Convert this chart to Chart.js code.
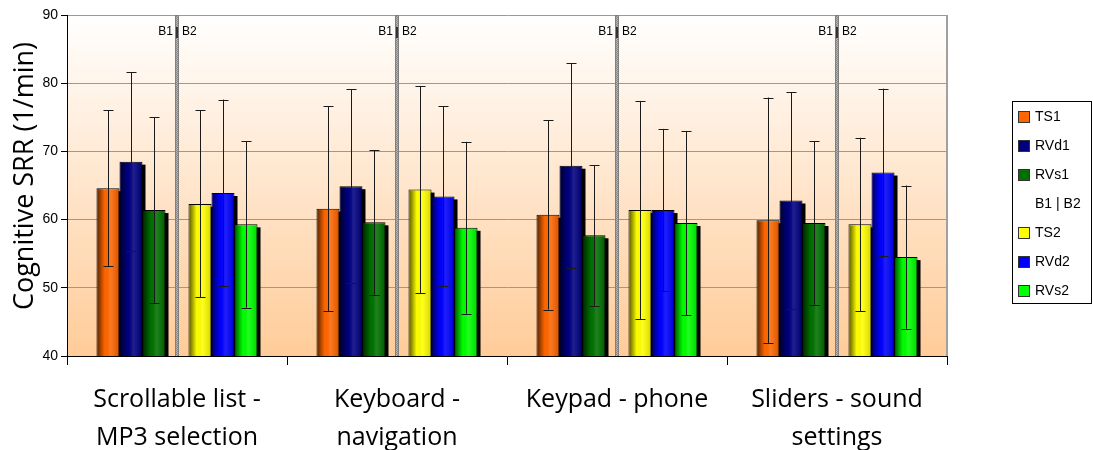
<!DOCTYPE html>
<html>
<head>
<meta charset="utf-8">
<script src="https://cdn.jsdelivr.net/npm/chart.js@4.4.1/dist/chart.umd.min.js"></script>
<style>
    body { margin: 0; background: #fff; }
</style>
</head>
<body>
<canvas id="myChart" width="1093" height="450"></canvas>
<script>
// categorias y valores (media y desviacion) por serie
const categorias = [
    ["Scrollable list -", "MP3 selection"],
    ["Keyboard -", "navigation"],
    ["Keypad - phone"],
    ["Sliders - sound", "settings"],
];
const ts1 = [64.6, 61.6, 60.7, 59.9];
const rvd1 = [68.5, 64.9, 67.9, 62.8];
const rvs1 = [61.4, 59.6, 57.7, 59.5];
const ts2 = [62.3, 64.4, 61.4, 59.3];
const rvd2 = [63.9, 63.4, 61.4, 66.9];
const rvs2 = [59.3, 58.8, 59.5, 54.5];

const ts1Err = [11.4, 15.0, 13.9, 18.0];
const rvd1Err = [13.1, 14.2, 15.0, 15.9];
const rvs1Err = [13.6, 10.6, 10.3, 12.0];
const ts2Err = [13.7, 15.2, 16.0, 12.7];
const rvd2Err = [13.7, 13.2, 11.9, 12.3];
const rvs2Err = [12.2, 12.6, 13.5, 10.5];

// linea divisoria entre bloques, llega hasta el tope del eje
const separador = [90, 90, 90, 90];
const yTicks = [40, 50, 60, 70, 80, 90];

const patronGris = () => {
    const c = document.createElement("canvas");
    c.width = 2;
    c.height = 2;
    const g = c.getContext("2d");
    g.fillStyle = "#b8b8b8";
    g.fillRect(0, 0, 2, 2);
    g.fillStyle = "#858585";
    g.fillRect(0, 0, 1, 1);
    g.fillRect(1, 1, 1, 1);
    return g.createPattern(c, "repeat");
};

const serie = (label, data, color, errores) => ({
    label,
    data,
    errores,
    backgroundColor: color,
    borderColor: "#000",
    borderWidth: 1,
});

const recortar = (ctx, a) => {
    ctx.beginPath();
    ctx.rect(a.left, a.top, a.right - a.left, a.bottom - a.top);
    ctx.clip();
};

const fondo = {
    id: "fondo",
    beforeDraw(chart) {
        const { ctx, chartArea: a } = chart;
        const g = ctx.createLinearGradient(0, a.top, 0, a.bottom);
        g.addColorStop(0, "#ffffff");
        g.addColorStop(1, "#ffcc99");
        ctx.save();
        ctx.fillStyle = g;
        ctx.fillRect(a.left, a.top, a.right - a.left, a.bottom - a.top);
        ctx.restore();
    },
    beforeDatasetsDraw(chart) {
        const { ctx, chartArea: a } = chart;
        ctx.save();
        // borde derecho del area
        ctx.strokeStyle = "#a0a0a0";
        ctx.lineWidth = 2;
        ctx.beginPath();
        ctx.moveTo(a.right, a.top);
        ctx.lineTo(a.right, a.bottom);
        ctx.stroke();
        // sombras de las barras
        recortar(ctx, a);
        ctx.fillStyle = "#000";
        chart.data.datasets.forEach((ds, i) => {
            if (ds.separador) return;
            chart.getDatasetMeta(i).data.forEach((bar) => {
                const { x, y, width } = bar.getProps(["x", "y", "width"], true);
                ctx.fillRect(x - width / 2 + 3, y + 3, width, a.bottom - y);
            });
        });
        ctx.restore();
    },
    afterDatasetsDraw(chart) {
        const { ctx, chartArea: a, scales } = chart;
        ctx.save();
        chart.data.datasets.forEach((ds, i) => {
            const meta = chart.getDatasetMeta(i);
            if (ds.separador) {
                meta.data.forEach((bar) => {
                    const x = bar.x;
                    ctx.fillStyle = "#333";
                    ctx.fillRect(x - 1, a.top + 12, 2, 11);
                    ctx.fillStyle = "#000";
                    ctx.font = "12px Arial, 'Liberation Sans'";
                    ctx.textBaseline = "middle";
                    ctx.textAlign = "right";
                    ctx.fillText("B1", x - 4, a.top + 17);
                    ctx.textAlign = "left";
                    ctx.fillText("B2", x + 5, a.top + 17);
                });
                return;
            }
            meta.data.forEach((bar, j) => {
                const { x, y, width } = bar.getProps(["x", "y", "width"], true);
                // brillo del cilindro
                const l = x - width / 2 + 1;
                const g = ctx.createLinearGradient(l, 0, l + width - 2, 0);
                g.addColorStop(0, "rgba(0,0,0,0.6)");
                g.addColorStop(0.35, "rgba(0,0,0,0)");
                g.addColorStop(0.6, "rgba(255,255,255,0.12)");
                g.addColorStop(1, "rgba(0,0,0,0.15)");
                ctx.fillStyle = g;
                ctx.fillRect(l, y + 1, width - 2, a.bottom - y - 1);
                // barra de error
                const v = ds.data[j];
                const e = ds.errores[j];
                const yTop = scales.y.getPixelForValue(v + e);
                const yBot = scales.y.getPixelForValue(v - e);
                const cx = Math.round(x) + 0.5;
                ctx.strokeStyle = "#1a1a1a";
                ctx.lineWidth = 1;
                ctx.beginPath();
                ctx.moveTo(cx, yTop);
                ctx.lineTo(cx, yBot);
                ctx.moveTo(cx - 5, Math.round(yTop) + 0.5);
                ctx.lineTo(cx + 5, Math.round(yTop) + 0.5);
                ctx.moveTo(cx - 5, Math.round(yBot) + 0.5);
                ctx.lineTo(cx + 5, Math.round(yBot) + 0.5);
                ctx.stroke();
            });
        });
        ctx.restore();
    },
    afterDraw(chart) {
        const { ctx } = chart;
        ctx.save();
        // titulo del eje y
        ctx.translate(33, 176);
        ctx.rotate(-Math.PI / 2);
        ctx.fillStyle = "#000";
        ctx.font = "27px 'Open Sans'";
        ctx.textAlign = "center";
        ctx.textBaseline = "alphabetic";
        ctx.fillText("Cognitive SRR (1/min)", 0, 0);
        ctx.restore();

        // leyenda
        const lx = chart.width - 81;
        const ly = 101;
        ctx.save();
        ctx.fillStyle = "#fff";
        ctx.fillRect(lx, ly, 79, 202);
        ctx.strokeStyle = "#000";
        ctx.lineWidth = 1;
        ctx.strokeRect(lx + 0.5, ly + 0.5, 79, 202);
        ctx.font = "14px Arial, 'Liberation Sans'";
        ctx.textBaseline = "middle";
        ctx.textAlign = "left";
        chart.data.datasets.forEach((ds, i) => {
            const y = ly + 16 + i * 29;
            if (!ds.separador) {
                ctx.fillStyle = ds.backgroundColor;
                ctx.fillRect(lx + 6.5, y - 5.5, 11, 11);
                ctx.strokeStyle = "#333";
                ctx.strokeRect(lx + 6.5, y - 5.5, 11, 11);
            }
            ctx.fillStyle = "#000";
            ctx.fillText(ds.label, lx + 23, y);
        });
        ctx.restore();
    },
};

const ctx = document.getElementById("myChart");

new Chart(ctx, {
    type: "bar",
    data: {
        labels: categorias,
        datasets: [
            serie("TS1", ts1, "#ff6600", ts1Err),
            serie("RVd1", rvd1, "#000080", rvd1Err),
            serie("RVs1", rvs1, "#007000", rvs1Err),
            {
                label: "B1 | B2",
                data: separador,
                separador: true,
                backgroundColor: patronGris(),
                borderColor: "#808080",
                borderWidth: 1,
                maxBarThickness: 4,
            },
            serie("TS2", ts2, "#ffff00", ts2Err),
            serie("RVd2", rvd2, "#0000ff", rvd2Err),
            serie("RVs2", rvs2, "#00ff00", rvs2Err),
        ],
    },
    options: {
        responsive: false,
        animation: false,
        events: [],
        categoryPercentage: 0.732,
        barPercentage: 1,
        layout: { padding: { top: 15, right: 146, left: 0, bottom: 0 } },
        plugins: {
            legend: { display: false },
            tooltip: { enabled: false },
        },
        scales: {
            x: {
                afterFit: (s) => { s.height = 94; },
                grid: {
                    offset: true,
                    drawOnChartArea: false,
                    tickLength: 9,
                    tickColor: "#000",
                    color: "#000",
                },
                border: { color: "#000", width: 1 },
                ticks: {
                    color: "#000",
                    padding: 16,
                    maxRotation: 0,
                    font: { family: "'Open Sans'", size: 25, lineHeight: 1.52 },
                },
            },
            y: {
                min: 40,
                max: 90,
                afterFit: (s) => { s.width = 67; },
                afterBuildTicks: (s) => { s.ticks = yTicks.map((v) => ({ value: v })); },
                grid: {
                    color: "#999",
                    tickColor: "#000",
                    tickLength: 6,
                },
                border: { color: "#000", width: 1 },
                ticks: {
                    color: "#000",
                    padding: 3,
                    font: { family: "Arial, 'Liberation Sans'", size: 14 },
                },
            },
        },
    },
    plugins: [fondo],
});
</script>
</body>
</html>
